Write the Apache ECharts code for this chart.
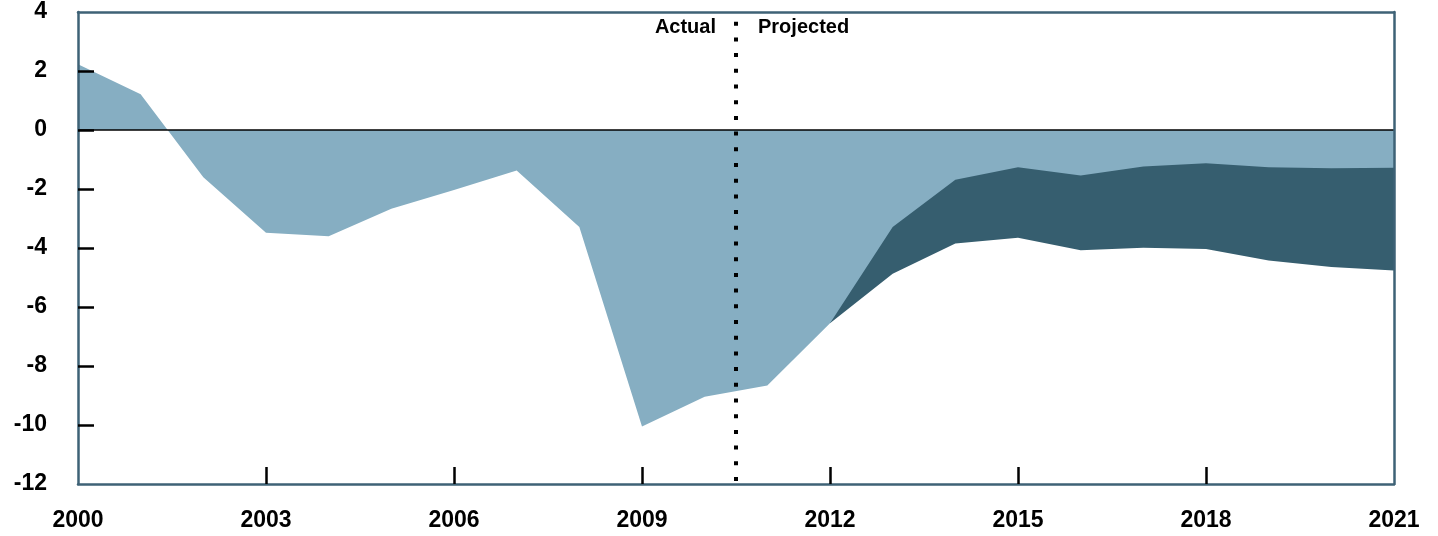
<!DOCTYPE html>
<html>
<head>
<meta charset="utf-8">
<script src="https://cdn.jsdelivr.net/npm/echarts@6/dist/echarts.min.js"></script>
<style>
  html, body { margin: 0; padding: 0; background: #fff; }
  #chart { width: 1438px; height: 536px; }
</style>
</head>
<body>
<div id="chart"></div>
<script>
// 年份与数据（占GDP百分比）
const years = [2000, 2001, 2002, 2003, 2004, 2005, 2006, 2007, 2008, 2009, 2010,
  2011, 2012, 2013, 2014, 2015, 2016, 2017, 2018, 2019, 2020, 2021]
const currentLaw = [2.23, 1.21, -1.6, -3.48, -3.6, -2.67, -2.03, -1.37, -3.29, -10.05, -9.04,
  -8.66, -6.55, -3.29, -1.69, -1.26, -1.54, -1.24, -1.13, -1.26, -1.3, -1.28]
const policyYears = [2012, 2013, 2014, 2015, 2016, 2017, 2018, 2019, 2020, 2021]
const certainPolicies = [-6.55, -4.87, -3.85, -3.65, -4.08, -3.99, -4.03, -4.42, -4.64, -4.76]
const yTicks = [-12, -10, -8, -6, -4, -2, 0, 2, 4]
const xTicks = [2000, 2003, 2006, 2009, 2012, 2015, 2018, 2021]
const projectionStart = 2010.5

const FONT = 'Liberation Sans, Arial, sans-serif'
const LIGHT = '#86aec2'
const DARK = '#365e6f'
const FRAME = '#3e6276'

const chart = echarts.init(document.getElementById('chart'))

const axisCommon = {
  z: 10,
  axisLine: { show: true, onZero: false, lineStyle: { color: FRAME, width: 2.5 } },
  splitLine: { show: false }
}

const option = {
  animation: false,
  grid: { left: 78, right: 44, top: 12, bottom: 52 },
  xAxis: [
    Object.assign({}, axisCommon, {
      type: 'value',
      min: xTicks[0],
      max: xTicks[xTicks.length - 1],
      interval: 3,
      // 两端的刻度被边框盖住，不画
      axisTick: {
        show: true, inside: true, length: 17,
        customValues: xTicks.slice(1, -1),
        lineStyle: { color: '#000', width: 2.5 }
      },
      axisLabel: {
        color: '#000', fontFamily: FONT, fontWeight: 'bold', fontSize: 23, margin: 25,
        formatter: v => String(v)
      }
    }),
    Object.assign({}, axisCommon, {
      type: 'value', position: 'top', min: 2000, max: 2021,
      axisTick: { show: false }, axisLabel: { show: false }
    })
  ],
  yAxis: [
    Object.assign({}, axisCommon, {
      type: 'value',
      min: yTicks[0],
      max: yTicks[yTicks.length - 1],
      interval: 2,
      axisTick: {
        show: true, inside: true, length: 16,
        customValues: yTicks.slice(1, -1),
        lineStyle: { color: '#000', width: 2.5 }
      },
      axisLabel: { color: '#000', fontFamily: FONT, fontWeight: 'bold', fontSize: 23, margin: 31 }
    }),
    Object.assign({}, axisCommon, {
      type: 'value', position: 'right', min: -12, max: 4,
      axisTick: { show: false }, axisLabel: { show: false }
    })
  ],
  series: [
    // 延续特定政策（深色带，先画）
    {
      type: 'line',
      data: policyYears.map((y, i) => [y, certainPolicies[i]]),
      symbol: 'none',
      lineStyle: { width: 0 },
      areaStyle: { color: DARK, opacity: 1, origin: 'auto' },
      z: 2
    },
    // 现行法律
    {
      type: 'line',
      data: years.map((y, i) => [y, currentLaw[i]]),
      symbol: 'none',
      lineStyle: { width: 0 },
      areaStyle: { color: LIGHT, opacity: 1, origin: 'auto' },
      z: 3,
      markLine: {
        silent: true,
        symbol: 'none',
        label: { show: false },
        data: [
          { yAxis: 0, lineStyle: { color: '#000', width: 1.5, type: 'solid' } },
          { xAxis: projectionStart, lineStyle: { color: '#000', width: 4, type: [4, 11.7], dashOffset: -3 } }
        ]
      }
    }
  ],
  graphic: [
    { type: 'text', right: 1438 - 716, top: 17, style: { text: 'Actual', fill: '#000', font: 'bold 20px ' + FONT } },
    { type: 'text', left: 758, top: 17, style: { text: 'Projected', fill: '#000', font: 'bold 20px ' + FONT } },
    { type: 'text', left: 767, top: 184, style: { text: 'Current Law', fill: '#fff', font: 'bold 21px ' + FONT } },
    {
      type: 'text', right: 1438 - 1370, top: 182,
      style: { text: 'Continuation of\nCertain Policies', fill: '#fff', font: 'bold 21px ' + FONT, align: 'right', lineHeight: 28 }
    }
  ]
}

chart.setOption(option)
</script>
</body>
</html>
